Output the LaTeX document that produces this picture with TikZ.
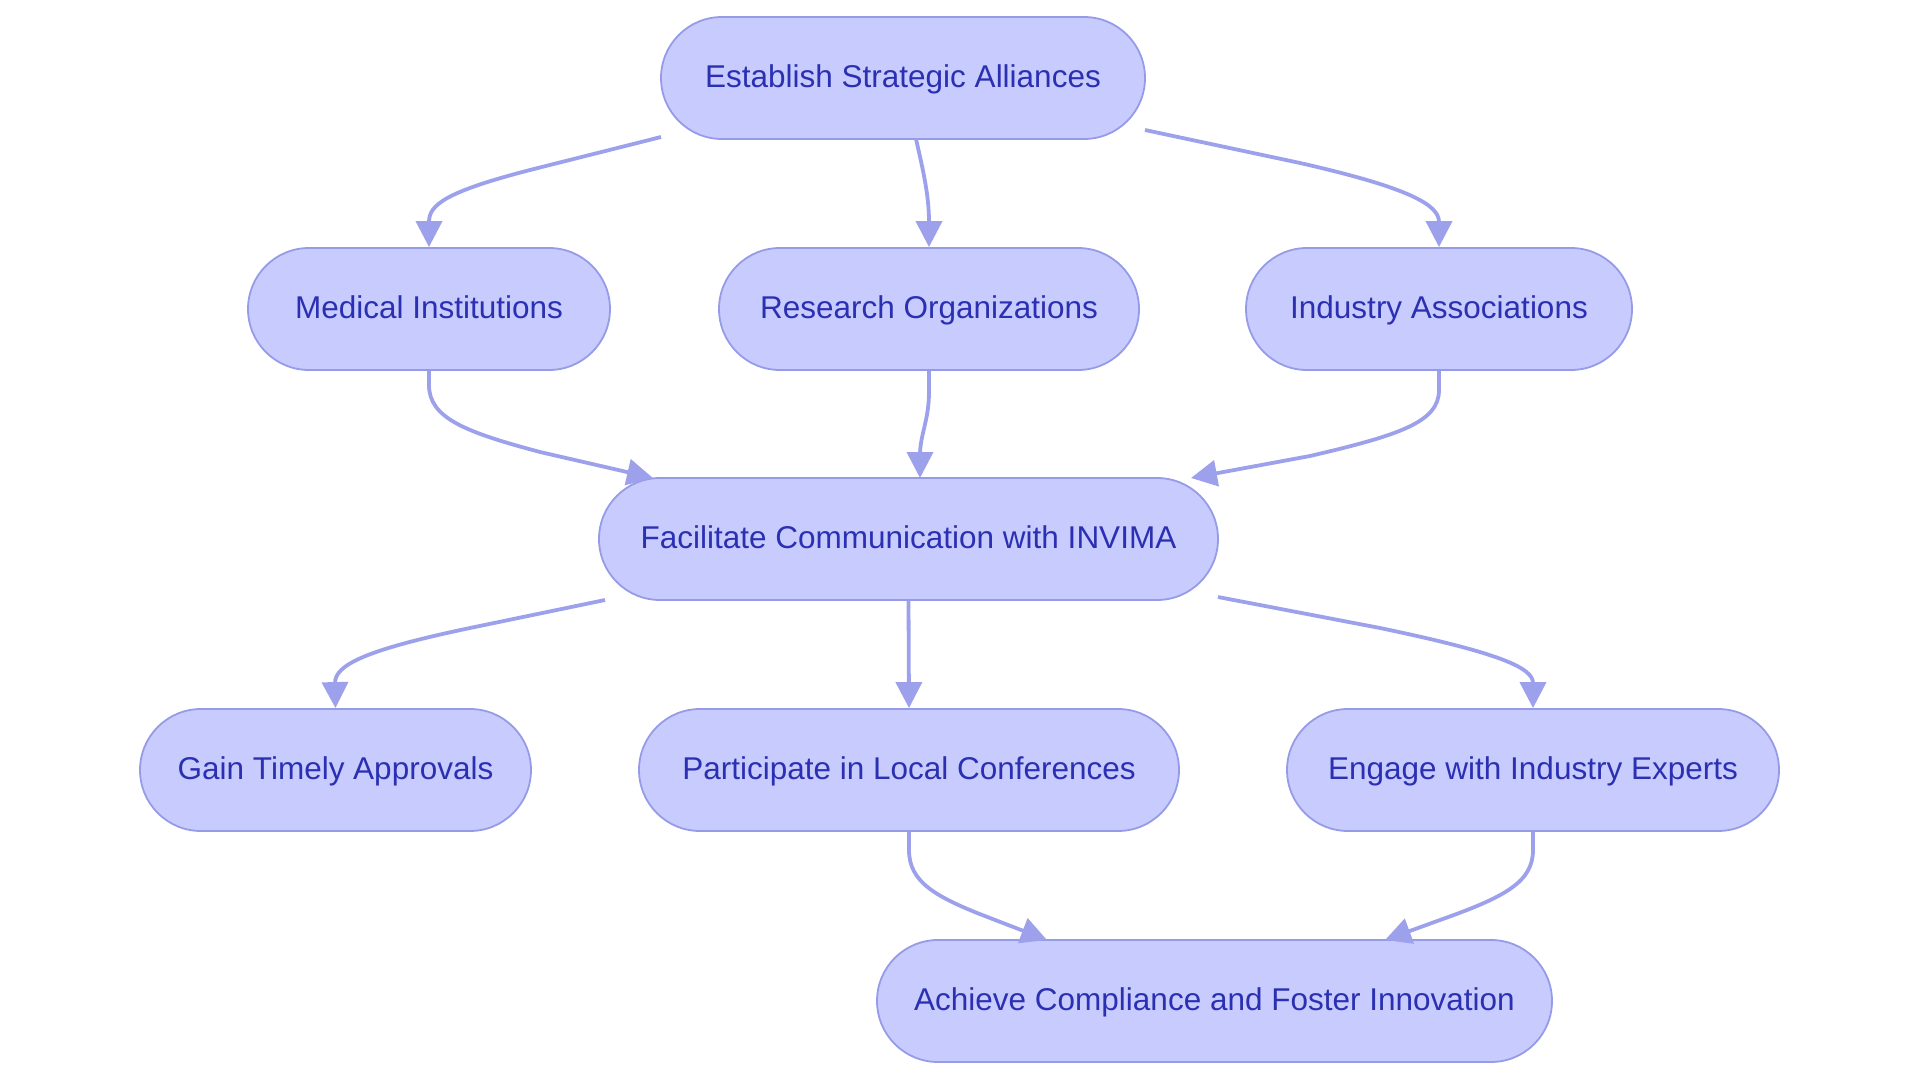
\documentclass[tikz,border=0pt]{standalone}
\usepackage{fontspec}
\setmainfont{Liberation Sans}
\usetikzlibrary{shapes.misc,arrows.meta,calc}
\definecolor{boxfill}{RGB}{200,203,253}
\definecolor{boxline}{RGB}{150,155,232}
\definecolor{edgecol}{RGB}{157,161,236}
\definecolor{txtcol}{RGB}{43,48,178}
\begin{document}
\begin{tikzpicture}[x=1pt,y=-1pt,
  box/.style={rounded rectangle, draw=boxline, line width=1.8pt, fill=boxfill,
    minimum height=122pt, inner sep=0pt, text=txtcol,
    font=\fontsize{31.5}{38}\selectfont, text height=22.7pt, text depth=3.2pt},
  link/.style={draw=edgecol, line width=3.8pt, -{Triangle[length=26pt,width=26pt]}}]
\useasboundingbox (0,0) rectangle (1920,1083);

\node[box, minimum width=484pt] (est) at (903,78) {Establish Strategic Alliances};
\node[box, minimum width=362pt] (med) at (429,309) {Medical Institutions};
\node[box, minimum width=420pt] (res) at (929,309) {Research Organizations};
\node[box, minimum width=386pt] (ind) at (1439,309) {Industry Associations};
\node[box, minimum width=619pt] (fac) at (908.5,539) {Facilitate Communication with INVIMA};
\node[box, minimum width=391pt] (gain) at (335.5,770) {Gain Timely Approvals};
\node[box, minimum width=540pt] (par) at (909,770) {Participate in Local Conferences};
\node[box, minimum width=492pt] (eng) at (1533,770) {Engage with Industry Experts};
\node[box, minimum width=675pt] (ach) at (1214.5,1001) {Achieve Compliance and Foster Innovation};

\draw[link] ($(est.center)+(-242,59)$) -- (530,170) .. controls (445,192) and (429,205) .. (429,222) -- (med.north);
\draw[link] ($(est.center)+(13,61)$) .. controls (923,170) and (929,195) .. (929,222) -- (res.north);
\draw[link] ($(est.center)+(242,52)$) -- (1300,163) .. controls (1410,188) and (1439,205) .. (1439,222) -- (ind.north);

\draw[link] (med.south) -- (429,385) .. controls (429,418) and (465,432) .. (540,452) -- ($(fac.center)+(-255.5,-61)$);
\draw[link] (res.south) -- (929,392) .. controls (929,420) and (920,435) .. (920,455) -- ($(fac.center)+(11.5,-61)$);
\draw[link] (ind.south) -- (1439,390) .. controls (1439,422) and (1400,435) .. (1310,456) -- ($(fac.center)+(282.5,-61)$);

\draw[link] ($(fac.center)+(-303.5,61)$) -- (470,628) .. controls (365,650) and (335,665) .. (335,683) -- (gain.north);
\draw[link] (fac.south) -- (par.north);
\draw[link] ($(fac.center)+(309.5,58)$) -- (1380,628) .. controls (1495,652) and (1533,667) .. (1533,683) -- (eng.north);

\draw[link] (par.south) -- (909,850) .. controls (909,882) and (935,897) .. (990,918) -- ($(ach.center)+(-167.5,-61)$);
\draw[link] (eng.south) -- (1533,850) .. controls (1533,882) and (1505,897) .. (1440,920) -- ($(ach.center)+(170.5,-61)$);
\end{tikzpicture}
\end{document}
